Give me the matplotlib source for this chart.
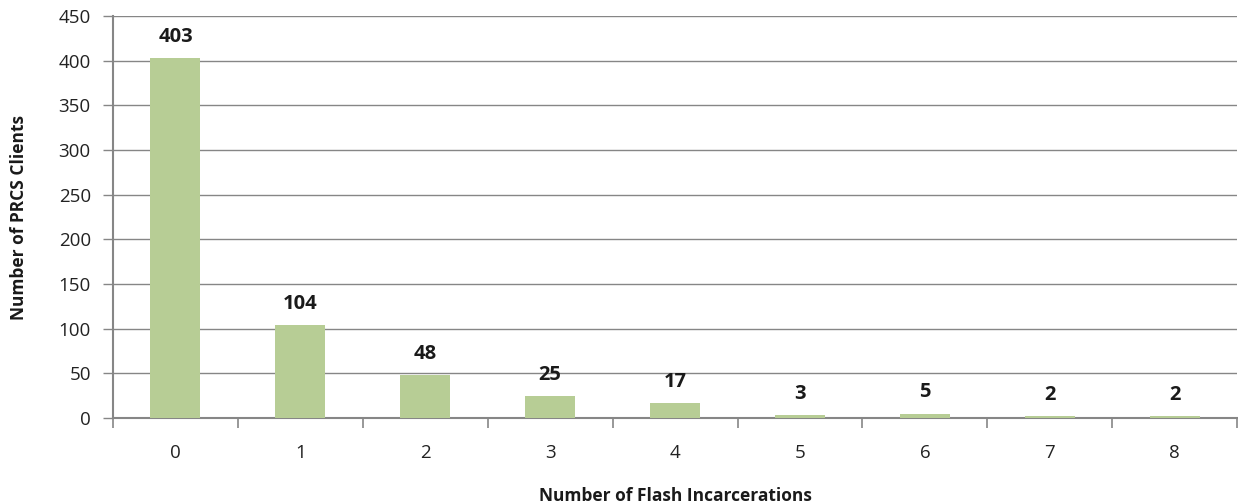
import numpy as np
import matplotlib
matplotlib.use("Agg")
import matplotlib.pyplot as plt
from matplotlib.ticker import FixedLocator

plt.rcParams['font.family'] = ['Open Sans', 'DejaVu Sans']

# data
categories = ["0", "1", "2", "3", "4", "5", "6", "7", "8"]
clients = [403, 104, 48, 25, 17, 3, 5, 2, 2]

bar_color = "#B7CD95"
axis_color = "#868686"

fig = plt.figure(figsize=(12.38, 5.03), dpi=100)
ax = fig.add_axes([0.0913, 0.169, 0.908, 0.799])

x = np.arange(len(categories))
ax.bar(x, clients, width=0.4, color=bar_color, zorder=3)

for xi, v in zip(x, clients):
    ax.annotate(str(v), (xi, v), xytext=(0, 8), textcoords="offset points",
                ha="center", va="bottom", fontsize=14.5, fontweight="bold",
                color="#1a1a1a")

ax.set_xlim(-0.5, len(categories) - 0.5)
ax.set_ylim(0, 450)
ax.set_yticks(range(0, 451, 50))
ax.yaxis.grid(True, color=axis_color, linewidth=1.0, zorder=0)

ax.set_xticks(x)
ax.set_xticklabels(categories)
ax.xaxis.set_minor_locator(FixedLocator(np.arange(-0.5, len(categories), 1.0)))
ax.tick_params(axis="x", which="major", length=0, pad=19, labelsize=13.5, colors="#222222")
ax.tick_params(axis="x", which="minor", length=7, width=1.2, color=axis_color, direction="out")
ax.tick_params(axis="y", length=7, width=1.0, color=axis_color, labelsize=13.5,
               labelcolor="#222222", pad=9)

for s in ["top", "right"]:
    ax.spines[s].set_visible(False)
for s in ["left", "bottom"]:
    ax.spines[s].set_color(axis_color)
    ax.spines[s].set_linewidth(1.5)

ax.set_xlabel("Number of Flash Incarcerations", fontsize=12.5, fontweight="bold",
              color="#1a1a1a", labelpad=18)
ax.set_ylabel("Number of PRCS Clients", fontsize=12.5, fontweight="bold",
              color="#1a1a1a", labelpad=22)

fig.savefig("out.png", dpi=100)
